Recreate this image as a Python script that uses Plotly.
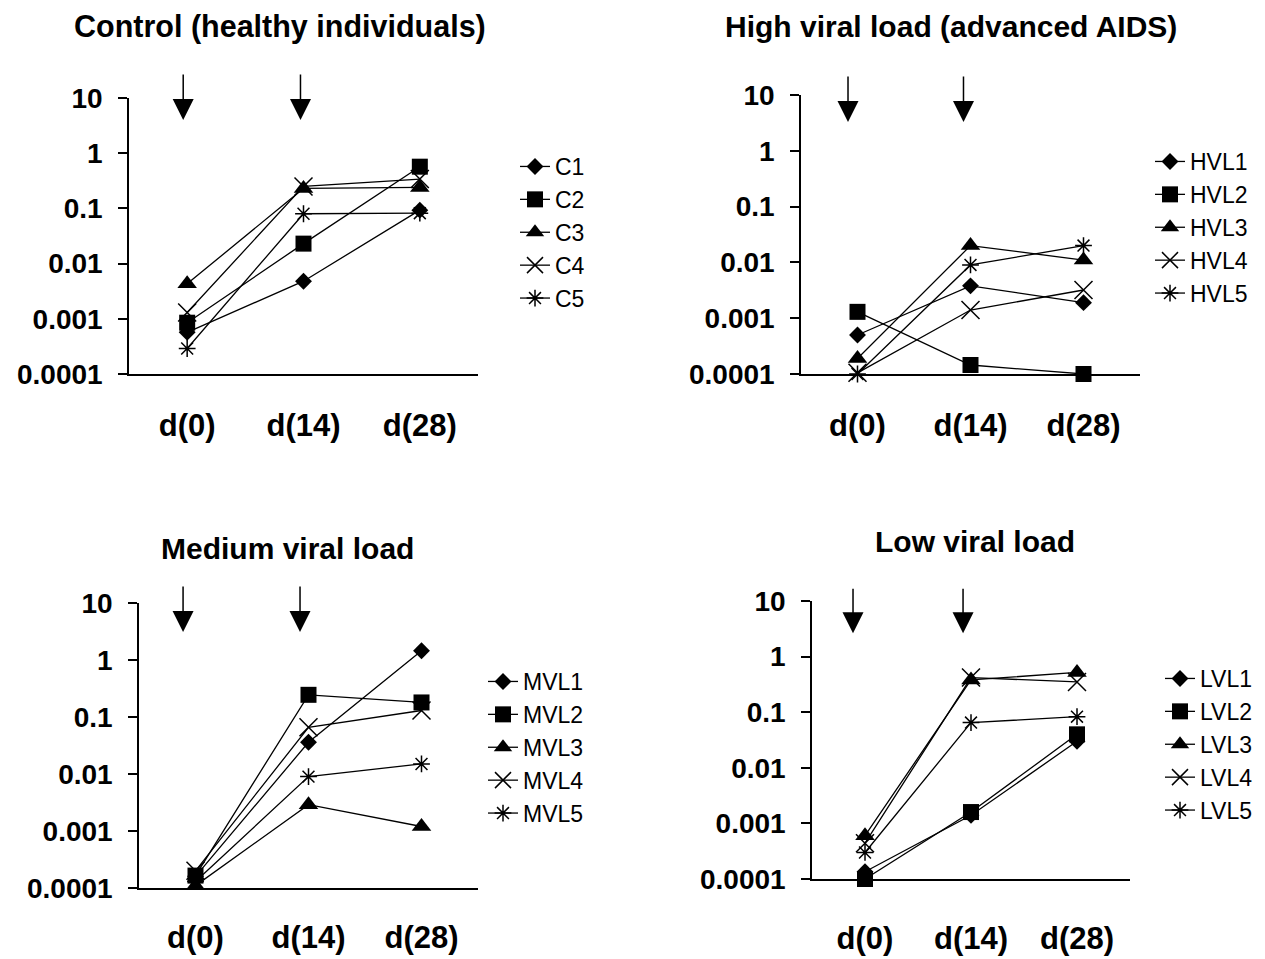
import plotly.graph_objects as go

# ---------------- data ----------------
days = ["d(0)", "d(14)", "d(28)"]
y_tickvals = [0.0001, 0.001, 0.01, 0.1, 1, 10]
y_ticktext = ["0.0001", "0.001", "0.01", "0.1", "1", "10"]

titles = ["Control (healthy individuals)", "High viral load (advanced AIDS)",
          "Medium viral load", "Low viral load"]

control_names = ["C1", "C2", "C3", "C4", "C5"]
C1 = [0.00057, 0.0048, 0.093]
C2 = [0.00085, 0.023, 0.57]
C3 = [0.0043, 0.23, 0.24]
C4 = [0.0013, 0.25, 0.34]
C5 = [0.00029, 0.08, 0.082]

hvl_names = ["HVL1", "HVL2", "HVL3", "HVL4", "HVL5"]
HVL1 = [0.0005, 0.0038, 0.0019]
HVL2 = [0.0013, 0.000145, 0.0001]
HVL3 = [0.00019, 0.02, 0.011]
HVL4 = [0.000105, 0.0014, 0.0032]
HVL5 = [0.0001, 0.009, 0.02]

mvl_names = ["MVL1", "MVL2", "MVL3", "MVL4", "MVL5"]
MVL1 = [0.00016, 0.036, 1.45]
MVL2 = [0.000165, 0.245, 0.18]
MVL3 = [0.00011, 0.0029, 0.0012]
MVL4 = [0.0002, 0.066, 0.13]
MVL5 = [0.00013, 0.009, 0.015]

lvl_names = ["LVL1", "LVL2", "LVL3", "LVL4", "LVL5"]
LVL1 = [0.000135, 0.0014, 0.03]
LVL2 = [0.0001, 0.0016, 0.04]
LVL3 = [0.0006, 0.38, 0.52]
LVL4 = [0.00044, 0.42, 0.35]
LVL5 = [0.0003, 0.065, 0.083]

groups = [
    (control_names, [C1, C2, C3, C4, C5]),
    (hvl_names, [HVL1, HVL2, HVL3, HVL4, HVL5]),
    (mvl_names, [MVL1, MVL2, MVL3, MVL4, MVL5]),
    (lvl_names, [LVL1, LVL2, LVL3, LVL4, LVL5]),
]

# ---------------- styling / layout ----------------
W, H = 1265, 959
OFF = 8  # page body margin offset
FONT = "Liberation Sans, Arial, sans-serif"


def px_x(v):
    return (v - OFF) / W


def px_y(v):
    return 1 - (v - OFF) / H


markers = [
    dict(symbol="diamond", size=13, color="black"),
    dict(symbol="square", size=16, color="black"),
    dict(symbol="triangle-up", size=17, color="black"),
    dict(symbol="x-thin-open", size=18, color="black", line=dict(color="black", width=1.5)),
    dict(symbol="asterisk-open", size=14, color="black", line=dict(color="black", width=1.5)),
]

# panel pixel boxes: (x0, x1, ytop, ybottom)
boxes = [(129, 478, 98, 374), (801, 1140, 95, 374), (139, 478, 603, 888), (812, 1130, 601, 879)]
xstandoff = [23, 23, 21, 31]
legend_pos = [(515, 145), (1150, 140), (483, 660), (1160, 657)]
title_pos = [(280, 27), (951, 27), (287, 548), (975, 541)]
arrow_specs = [  # (x positions on category axis, tip y in log10 units, ay px)
    ([-0.034, 0.974], 0.60, -47),
    ([-0.084, 0.938], 0.516, -47),
    ([-0.11, 0.925], 0.49, -47),
    ([-0.113, 0.925], 0.42, -46),
]

fig = go.Figure()
layout = dict(width=W, height=H, margin=dict(l=0, r=0, t=0, b=0, autoexpand=False),
              plot_bgcolor="white", paper_bgcolor="white", showlegend=True,
              font=dict(family=FONT, color="black"))
annotations = []

for i, (names, series) in enumerate(groups):
    n = i + 1
    xa = "x" if n == 1 else f"x{n}"
    ya = "y" if n == 1 else f"y{n}"
    lg = "legend" if n == 1 else f"legend{n}"
    for name, vals, mk in zip(names, series, markers):
        fig.add_trace(go.Scatter(
            x=days, y=vals, name=name, mode="lines+markers",
            line=dict(color="black", width=1.3), marker=mk,
            xaxis=xa, yaxis=ya, legend=lg, cliponaxis=False))
    x0, x1, yt, yb = boxes[i]
    xkey = "xaxis" if n == 1 else f"xaxis{n}"
    ykey = "yaxis" if n == 1 else f"yaxis{n}"
    layout[xkey] = dict(domain=[px_x(x0), px_x(x1)], anchor=ya, type="category",
                        range=[-0.5, 2.5], showline=True, linecolor="black", linewidth=1.5,
                        ticks="", showgrid=False, zeroline=False, automargin=False,
                        ticklabelstandoff=xstandoff[i],
                        tickfont=dict(family=FONT, size=31, weight="bold", color="black"))
    layout[ykey] = dict(domain=[px_y(yb), px_y(yt)], anchor=xa, type="log",
                        range=[-4, 1], showline=True, linecolor="black", linewidth=1.5,
                        ticks="outside", ticklen=9, tickwidth=1.5, tickcolor="black",
                        tickvals=y_tickvals, ticktext=y_ticktext, automargin=False,
                        showgrid=False, zeroline=False, ticklabelstandoff=10,
                        tickfont=dict(family=FONT, size=28, weight="bold", color="black"))
    lx, ly = legend_pos[i]
    layout[lg] = dict(x=px_x(lx), y=px_y(ly), xanchor="left", yanchor="top",
                      xref="paper", yref="paper", bgcolor="rgba(0,0,0,0)",
                      font=dict(family=FONT, size=23, color="black"),
                      itemclick=False, itemdoubleclick=False)
    tx, ty = title_pos[i]
    annotations.append(dict(text=titles[i], x=px_x(tx), y=px_y(ty), xref="paper", yref="paper",
                            xanchor="center", yanchor="middle", showarrow=False,
                            font=dict(family=FONT, size=30.5 if i == 0 else 30,
                                      weight="bold", color="black")))
    xs, tip, ay = arrow_specs[i]
    for ax_x in xs:
        annotations.append(dict(x=ax_x, y=tip, xref=xa, yref=ya, text="", showarrow=True,
                                ax=0, ay=ay, arrowhead=2, arrowsize=2.8, arrowwidth=1.5,
                                arrowcolor="black", standoff=0))

layout["annotations"] = annotations
fig.update_layout(**layout)
fig.write_html("out.html")
